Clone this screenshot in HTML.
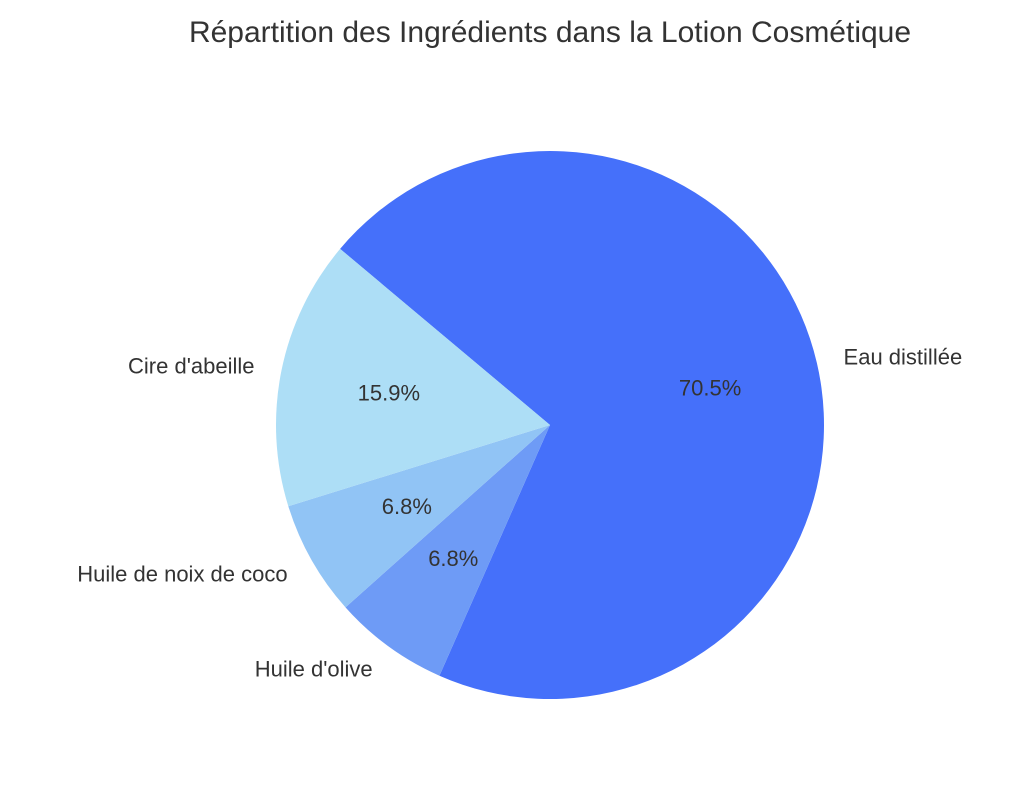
<!DOCTYPE html>
<html><head><meta charset="utf-8"><style>
body{margin:0;background:#fff;}
svg text{font-family:"Liberation Sans","DejaVu Sans",sans-serif;fill:#333;}
</style></head><body>
<svg id="chart" width="1024" height="783" xmlns="http://www.w3.org/2000/svg">
<text x="550" y="42" font-size="30" text-anchor="middle">Répartition des Ingrédients dans la Lotion Cosmétique</text>
<g id="slices"></g>
</svg>
<script>
const categories = ["Eau distillée", "Huile d'olive", "Huile de noix de coco", "Cire d'abeille"];
const values = [70.5, 6.8, 6.8, 15.9];
const pctLabels = ["70.5%", "6.8%", "6.8%", "15.9%"];
const colors = ["#4570fa", "#6e9bf6", "#91c4f5", "#addef6"];

const cx = 550, cy = 425, r = 274, startAngle = 140;
const total = values.reduce((a, b) => a + b, 0);
const g = document.getElementById('slices');
const ns = "http://www.w3.org/2000/svg";
function pt(angDeg, rad) {
  const a = angDeg * Math.PI / 180;
  return [cx + rad * Math.cos(a), cy - rad * Math.sin(a)];
}
let ang = startAngle;
values.forEach((v, i) => {
  const sweep = v / total * 360;
  const a0 = ang, a1 = ang - sweep;
  const p0 = pt(a0, r), p1 = pt(a1, r);
  const large = sweep > 180 ? 1 : 0;
  const path = document.createElementNS(ns, 'path');
  path.setAttribute('d', `M${cx},${cy} L${p0[0]},${p0[1]} A${r},${r} 0 ${large} 1 ${p1[0]},${p1[1]} Z`);
  path.setAttribute('fill', colors[i]);
  
  
  g.appendChild(path);
  const mid = (a0 + a1) / 2;
  const lp = pt(mid, r * 1.1);
  const cosm = Math.cos(mid * Math.PI / 180);
  const lab = document.createElementNS(ns, 'text');
  lab.setAttribute('x', lp[0]);
  lab.setAttribute('y', lp[1] + 8);
  lab.setAttribute('font-size', '22');
  lab.setAttribute('text-anchor', cosm >= 0 ? 'start' : 'end');
  lab.textContent = categories[i];
  
  
  g.appendChild(lab);
  const pp = pt(mid, r * 0.6);
  const pct = document.createElementNS(ns, 'text');
  pct.setAttribute('x', pp[0]);
  pct.setAttribute('y', pp[1] + 8);
  pct.setAttribute('font-size', '22');
  pct.setAttribute('text-anchor', 'middle');
  pct.textContent = pctLabels[i];
  
  
  g.appendChild(pct);
  ang = a1;
});
</script>
</body></html>
